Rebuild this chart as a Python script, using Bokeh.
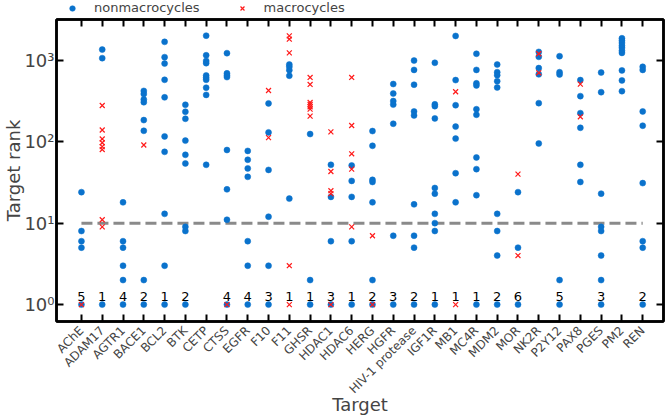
import math
from bokeh.plotting import figure
from bokeh.layouts import column
from bokeh.models import (ColumnDataSource, Range1d, FixedTicker, LinearAxis, LogAxis,
                          Legend, LegendItem)
from bokeh.core.properties import value
from bokeh.embed import file_html
from bokeh.resources import INLINE

categories = ["AChE", "ADAM17", "AGTR1", "BACE1", "BCL2", "BTK", "CETP", "CTSS", "EGFR",
              "F10", "F11", "GHSR", "HDAC1", "HDAC6", "HERG", "HGFR", "HIV-1 protease",
              "IGF1R", "MB1", "MC4R", "MDM2", "MOR", "NK2R", "P2Y12", "PAX8", "PGES",
              "PM2", "REN"]

nonmacro_ranks = [
    [24, 8, 6, 5, 1],                                   # AChE
    [1350, 1060, 1],                                    # ADAM17
    [18, 6, 5, 3, 2, 1],                                # AGTR1
    [420, 385, 330, 305, 184, 136, 2, 1],               # BACE1
    [1680, 1090, 910, 575, 350, 116, 75, 13, 3, 1],     # BCL2
    [284, 233, 191, 103, 69, 54, 9, 8, 1],              # BTK
    [2000, 1150, 980, 920, 650, 610, 575, 460, 375, 52],  # CETP
    [1220, 690, 650, 620, 79, 26, 11, 1],               # CTSS
    [77, 60, 47, 37, 6, 3, 1],                          # EGFR
    [295, 130, 45, 12, 3, 1],                           # F10
    [885, 830, 755, 645, 20],                           # F11
    [124, 2, 1],                                        # GHSR
    [52, 21, 6, 1],                                     # HDAC1
    [51, 33, 21, 6, 1],                                 # HDAC6
    [135, 89, 34, 32, 18, 2, 1],                        # HERG
    [510, 390, 315, 285, 166, 7, 1],                    # HGFR
    [990, 760, 500, 235, 210, 17, 7, 5, 1],             # HIV-1 protease
    [930, 287, 273, 193, 27, 23, 13, 10, 8, 1],         # IGF1R
    [1985, 570, 280, 153, 109, 41, 18],                 # MB1
    [1200, 760, 520, 490, 250, 214, 64, 46, 22, 1],     # MC4R
    [885, 713, 655, 553, 463, 13, 8, 4, 1],             # MDM2
    [24, 5, 1],                                         # MOR
    [1265, 1100, 800, 670, 297, 95],                    # NK2R
    [1120, 713, 667, 2, 1],                             # P2Y12
    [570, 362, 224, 148, 52, 32],                       # PAX8
    [706, 405, 23, 9, 8, 4, 2, 1],                      # PGES
    [1860, 1740, 1630, 1510, 1420, 1310, 1230, 750, 565, 417],  # PM2
    [830, 760, 235, 157, 31, 6, 5, 1],                  # REN
]

macro_ranks = [
    [1],                                  # AChE
    [278, 139, 108, 97, 87, 80, 11, 9],   # ADAM17
    [],                                   # AGTR1
    [91],                                 # BACE1
    [], [], [],                           # BCL2, BTK, CETP
    [1],                                  # CTSS
    [],                                   # EGFR
    [425, 112],                           # F10
    [1990, 1810, 1230, 3, 1],             # F11
    [614, 504, 303, 286, 268, 251, 206],  # GHSR
    [132, 43, 25, 23, 1],                 # HDAC1
    [614, 158, 71, 46, 9],                # HDAC6
    [7, 1],                               # HERG
    [], [], [],                           # HGFR, HIV-1 protease, IGF1R
    [410, 1],                             # MB1
    [], [],                               # MC4R, MDM2
    [40, 4],                              # MOR
    [1200, 700],                          # NK2R
    [],                                   # P2Y12
    [508, 202],                           # PAX8
    [], [], [],                           # PGES, PM2, REN
]

count_labels = ["5", "1", "4", "2", "1", "2", "", "4", "4", "3", "1", "1", "3", "1",
                "2", "3", "2", "1", "1", "1", "2", "6", "", "5", "", "3", "", "2"]

series_names = ["nonmacrocycles", "macrocycles"]

threshold = 10
y_ticks = [1, 10, 100, 1000]
y_tick_labels = ["10\u2070", "10\u00b9", "10\u00b2", "10\u00b3"]

BLUE = "#0a72cc"
RED = "#ff1a1a"
FONT = "DejaVu Sans"

# build flat columns
nx, ny = [], []
for i, vals in enumerate(nonmacro_ranks):
    for v in vals:
        nx.append(i)
        ny.append(v)
mx, my = [], []
for i, vals in enumerate(macro_ranks):
    for v in vals:
        mx.append(i)
        my.append(v)
lab_x = [i for i, t in enumerate(count_labels) if t]
lab_t = [t for t in count_labels if t]

n = len(categories)

src_n = ColumnDataSource(dict(x=nx, y=ny))
src_m = ColumnDataSource(dict(x=mx, y=my))

# ---------------- legend strip (separate small figure on top) ----------------
# its y range lies below all ranks, so the series themselves stay hidden there;
# they only serve as legend glyph sources
LEG_H = 16
pl = figure(width=666, height=LEG_H, x_range=Range1d(-1.2, n + 0.0), y_range=Range1d(-1, 0),
            output_backend="svg", toolbar_location=None,
            x_axis_location=None, y_axis_location=None,
            min_border_left=0, min_border_right=0, min_border_top=0, min_border_bottom=0)
pl.outline_line_color = None
pl.xgrid.visible = False
pl.ygrid.visible = False
lr_n = pl.scatter(x="x", y="y", source=src_n, marker="circle", size=6, fill_color=BLUE,
                  line_color=BLUE, line_width=0.5)
lr_m = pl.scatter(x="x", y="y", source=src_m, marker="x", size=7, line_color=RED,
                  line_width=1.2)
legend = Legend(items=[LegendItem(label=series_names[0], renderers=[lr_n]),
                       LegendItem(label=series_names[1], renderers=[lr_m])],
                orientation="horizontal", location=(0, 1),
                border_line_color=None, background_fill_alpha=0,
                padding=0, margin=0, spacing=26, label_standoff=6,
                glyph_width=32, glyph_height=14, label_height=12,
                label_text_font_size="13px", label_text_font=FONT)
pl.add_layout(legend, "center")

# ---------------- main figure ----------------
p = figure(width=666, height=418 - LEG_H, x_range=Range1d(-1.2, n + 0.0),
           y_range=Range1d(0.62, 3160), y_axis_type="log",
           output_backend="svg", toolbar_location=None,
           min_border_left=55, min_border_right=3, min_border_top=3,
           min_border_bottom=96)
p.xgrid.visible = False
p.ygrid.visible = False
p.outline_line_color = "black"
p.outline_line_width = 2.5
p.background_fill_color = "white"
p.border_fill_color = "white"

# threshold line
p.line(x=[0, n - 1], y=[threshold, threshold], line_color="#8a8a8a",
       line_width=3, line_dash="11 5")

p.scatter(x="x", y="y", source=src_n, marker="circle", size=6,
          fill_color=BLUE, line_color=BLUE, line_width=0.5)
p.scatter(x="x", y="y", source=src_m, marker="x", size=7,
          line_color=RED, line_width=1.2)

src_l = ColumnDataSource(dict(x=lab_x, y=[1.12] * len(lab_x), t=lab_t))
p.text(x="x", y="y", text="t", source=src_l, text_align="center",
       text_baseline="bottom", text_font_size="13px", text_font=value(FONT),
       text_color="black")

# bottom axis
xa = p.xaxis[0]
xa.ticker = FixedTicker(ticks=list(range(n)))
xa.major_label_overrides = {i: c for i, c in enumerate(categories)}
xa.major_label_orientation = math.pi / 4
xa.major_label_text_font_size = "12px"
xa.major_label_text_font = FONT
xa.major_label_standoff = 7
xa.major_tick_in = 7
xa.major_tick_out = 0
xa.major_tick_line_width = 2
xa.minor_tick_line_color = None
xa.axis_line_width = 2.5
xa.axis_label = "Target"
xa.axis_label_text_font_size = "18px"
xa.axis_label_text_font = FONT
xa.axis_label_text_font_style = "normal"
xa.axis_label_standoff = -10

ya = p.yaxis[0]
ya.ticker = FixedTicker(ticks=y_ticks)
ya.major_label_overrides = {t: l for t, l in zip(y_ticks, y_tick_labels)}
ya.major_label_text_font_size = "18px"
ya.major_label_text_font = FONT
ya.major_label_standoff = 2
ya.major_tick_in = 7
ya.major_tick_out = 0
ya.major_tick_line_width = 2
ya.minor_tick_line_color = None
ya.axis_line_width = 2.5
ya.axis_label = "Target rank"
ya.axis_label_text_font_size = "18px"
ya.axis_label_text_font = FONT
ya.axis_label_text_font_style = "normal"
ya.axis_label_standoff = -3

top = LinearAxis(ticker=FixedTicker(ticks=list(range(n))), major_label_text_font_size="0px",
                 major_label_standoff=0, major_tick_in=7, major_tick_out=0,
                 major_tick_line_width=2, minor_tick_line_color=None, axis_line_width=2.5)
top.major_label_overrides = {i: "" for i in range(n)}
p.add_layout(top, "above")

right = LogAxis(ticker=FixedTicker(ticks=y_ticks), major_label_text_font_size="0px",
                major_label_standoff=0, major_tick_in=7, major_tick_out=0,
                major_tick_line_width=2, minor_tick_line_color=None, axis_line_width=2.5)
right.major_label_overrides = {t: "" for t in y_ticks}
p.add_layout(right, "right")

layout = column(pl, p, spacing=0)

open("out.html", "w").write(file_html(layout, INLINE))
